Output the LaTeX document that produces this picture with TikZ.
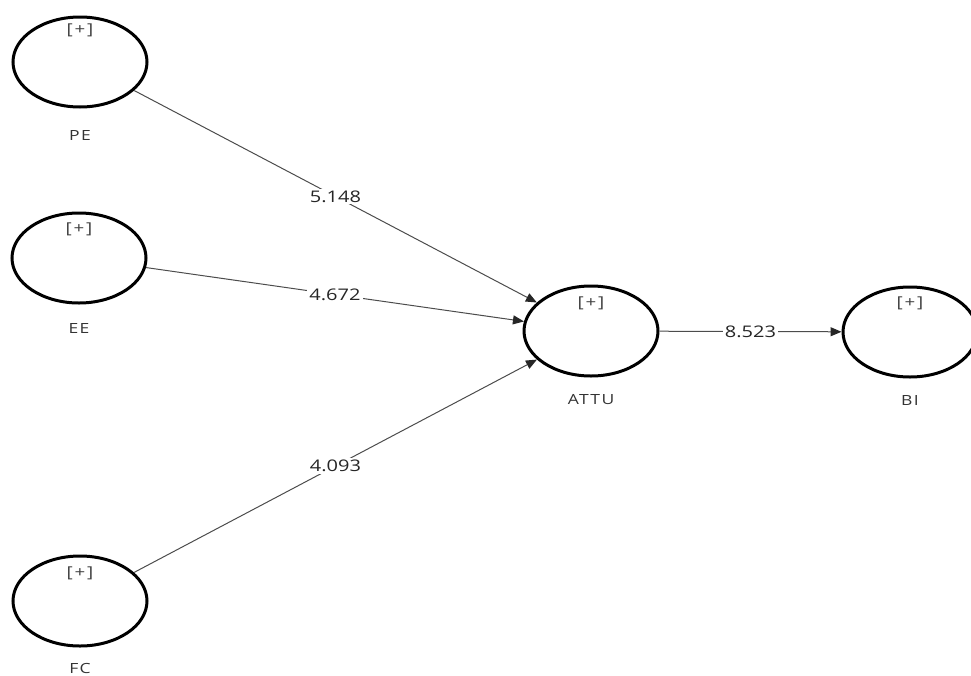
\documentclass[tikz,border=0pt]{standalone}
\usepackage{fontspec}
\setmainfont{Open Sans}[FakeStretch=1.25]
\usetikzlibrary{arrows.meta,shapes.geometric}
\begin{document}
\begin{tikzpicture}[x=1pt,y=-1pt,
  latent/.style={draw=black, line width=3pt, ellipse, minimum width=134pt,
    minimum height=90pt, inner sep=0pt},
  plus/.style={text=black!75, font=\addfontfeatures{LetterSpace=12}\fontsize{15}{17}\selectfont, inner sep=0pt},
  varname/.style={text=black!80, font=\addfontfeatures{LetterSpace=10}\fontsize{14}{16}\selectfont, inner sep=0pt},
  path/.style={draw=black!70, line width=1pt,
    -{Triangle[length=11pt,width=9pt,fill=black!85,color=black!85]}},
  coef/.style={fill=white, text=black!85, font=\fontsize{16}{18}\selectfont,
    inner sep=2pt, midway}]
\useasboundingbox (0,0) rectangle (971,675);

% latent constructs
\node[latent] (PE)   at (80,62)  {};
\node[latent] (EE)   at (79,258) {};
\node[latent] (FC)   at (80,601) {};
\node[latent] (ATTU) at (591,331) {};
\node[latent] (BI)   at (910,332) {};

% expand markers
\node[plus] (PEp)   at (80,30)  {[+]};
\node[plus] (EEp)   at (79,229) {[+]};
\node[plus] (FCp)   at (80,573) {[+]};
\node[plus] (ATTUp) at (591,303) {[+]};
\node[plus] (BIp)   at (910,303) {[+]};

% construct names
\node[varname] (PEl)   at (80,135)  {PE};
\node[varname] (EEl)   at (79,328)  {EE};
\node[varname] (FCl)   at (80,668)  {FC};
\node[varname] (ATTUl) at (591,400) {ATTU};
\node[varname] (BIl)   at (910,400) {BI};

% structural paths with t-values
\draw[path] (PE)   -- node[coef] (c1) {5.148} (ATTU);
\draw[path] (EE)   -- node[coef] (c2) {4.672} (ATTU);
\draw[path] (FC)   -- node[coef] (c3) {4.093} (ATTU);
\draw[path] (ATTU) -- node[coef] (c4) {8.523} (BI);
\end{tikzpicture}
\end{document}
